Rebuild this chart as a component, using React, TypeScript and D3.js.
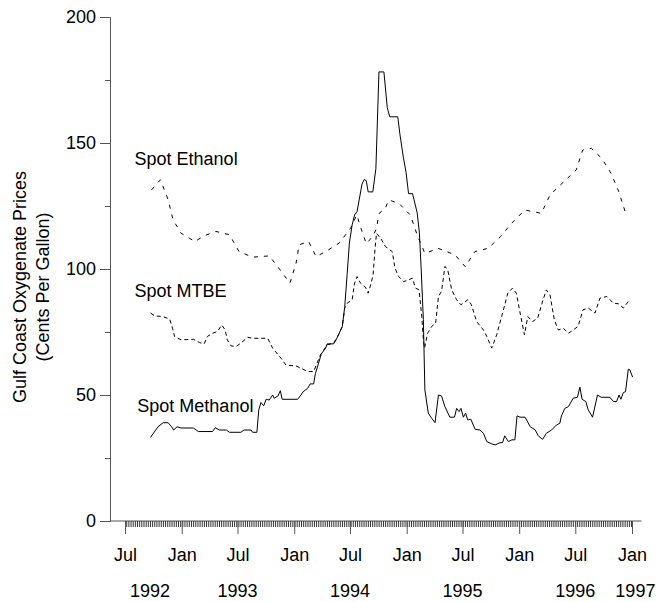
import React, { useEffect, useRef } from "react";
import * as d3 from "d3";

type Pt = [string, number];

// Spot methanol, cents per gallon (solid line)
const methanol: Pt[] = [
  ["1992-09-22", 33.2], ["1992-10-16", 37.4], ["1992-11-02", 39.0], ["1992-11-18", 39.0],
  ["1992-11-29", 37.4], ["1992-12-06", 36.1], ["1992-12-17", 37.4], ["1992-12-30", 36.9],
  ["1993-02-08", 36.9], ["1993-02-24", 35.5], ["1993-04-11", 35.5], ["1993-04-20", 37.0],
  ["1993-05-03", 36.1], ["1993-05-26", 36.1], ["1993-06-05", 35.2], ["1993-07-12", 35.2],
  ["1993-07-22", 36.1], ["1993-08-14", 36.1], ["1993-08-19", 35.2], ["1993-09-02", 35.2],
  ["1993-09-08", 44.1], ["1993-09-15", 47.0], ["1993-09-24", 45.7], ["1993-10-02", 48.3],
  ["1993-10-12", 48.0], ["1993-10-23", 50.0], ["1993-10-28", 48.7], ["1993-11-09", 49.6],
  ["1993-11-17", 51.7], ["1993-11-23", 48.3], ["1994-01-12", 48.3], ["1994-01-23", 50.0],
  ["1994-01-30", 51.3], ["1994-02-14", 52.7], ["1994-02-22", 54.4], ["1994-03-05", 54.4],
  ["1994-03-11", 58.6], ["1994-03-21", 62.6], ["1994-03-30", 66.3], ["1994-04-13", 68.6],
  ["1994-04-18", 70.3], ["1994-05-09", 70.3], ["1994-05-17", 71.9], ["1994-05-27", 74.5],
  ["1994-06-06", 77.2], ["1994-06-14", 85.1], ["1994-06-22", 98.3], ["1994-06-29", 110.3],
  ["1994-07-08", 117.5], ["1994-07-16", 121.5], ["1994-07-24", 122.8], ["1994-08-09", 133.7],
  ["1994-08-16", 135.5], ["1994-08-23", 135.0], ["1994-08-29", 130.6], ["1994-09-13", 130.6],
  ["1994-09-23", 139.8], ["1994-10-03", 178.2], ["1994-10-19", 178.2], ["1994-10-30", 164.0],
  ["1994-11-07", 160.4], ["1994-12-03", 160.4], ["1994-12-10", 153.5], ["1994-12-21", 144.4],
  ["1994-12-30", 138.3], ["1995-01-07", 129.9], ["1995-01-20", 129.9], ["1995-02-04", 122.3],
  ["1995-02-11", 114.6], ["1995-02-17", 100.0], ["1995-02-24", 80.0], ["1995-03-01", 52.0],
  ["1995-03-12", 42.8], ["1995-03-23", 40.8], ["1995-04-03", 39.0], ["1995-04-14", 50.0],
  ["1995-04-24", 49.6], ["1995-05-05", 45.4], ["1995-05-21", 41.2], ["1995-06-05", 41.2],
  ["1995-06-12", 44.7], ["1995-06-20", 43.4], ["1995-06-26", 44.7], ["1995-07-04", 41.2],
  ["1995-07-11", 42.8], ["1995-07-18", 40.1], ["1995-07-28", 40.4], ["1995-08-11", 36.4],
  ["1995-08-27", 36.1], ["1995-09-07", 34.8], ["1995-09-18", 31.5], ["1995-10-04", 30.6],
  ["1995-10-15", 30.2], ["1995-10-31", 31.1], ["1995-11-08", 31.1], ["1995-11-15", 33.8],
  ["1995-11-27", 31.5], ["1995-12-08", 32.2], ["1995-12-18", 32.2], ["1995-12-25", 41.7],
  ["1996-01-04", 41.2], ["1996-01-20", 41.2], ["1996-02-06", 37.4], ["1996-02-22", 36.1],
  ["1996-03-03", 33.8], ["1996-03-17", 32.4], ["1996-03-29", 34.8], ["1996-04-15", 36.1],
  ["1996-05-01", 38.1], ["1996-05-12", 38.8], ["1996-05-17", 41.7], ["1996-05-28", 44.7],
  ["1996-06-09", 45.4], ["1996-06-24", 48.7], ["1996-07-08", 49.1], ["1996-07-16", 53.1],
  ["1996-07-23", 48.3], ["1996-08-04", 47.4], ["1996-08-12", 44.1], ["1996-08-26", 41.2],
  ["1996-09-11", 50.0], ["1996-09-23", 49.1], ["1996-10-21", 49.1], ["1996-11-02", 47.4],
  ["1996-11-12", 47.4], ["1996-11-20", 50.0], ["1996-11-26", 48.3], ["1996-12-04", 51.0],
  ["1996-12-11", 51.3], ["1996-12-20", 60.2], ["1996-12-25", 60.0], ["1997-01-03", 57.1],
];

// Spot MTBE (dense dashes)
const mtbe: Pt[] = [
  ["1992-09-22", 82.5], ["1992-10-06", 81.4], ["1992-11-02", 81.1], ["1992-11-23", 80.1],
  ["1992-12-02", 76.5], ["1992-12-09", 73.2], ["1992-12-30", 71.9], ["1993-02-08", 72.1],
  ["1993-02-28", 70.8], ["1993-03-15", 70.3], ["1993-03-25", 73.2], ["1993-04-11", 74.5],
  ["1993-04-27", 75.2], ["1993-05-11", 77.8], ["1993-05-22", 75.8], ["1993-05-29", 71.9],
  ["1993-06-10", 69.5], ["1993-06-26", 69.2], ["1993-07-12", 70.6], ["1993-08-03", 72.9],
  ["1993-08-19", 72.5], ["1993-10-07", 72.5], ["1993-10-23", 68.6], ["1993-11-19", 64.6],
  ["1993-12-05", 61.9], ["1994-01-07", 61.5], ["1994-01-23", 60.6], ["1994-02-14", 59.3],
  ["1994-03-05", 59.3], ["1994-03-16", 62.6], ["1994-03-27", 65.9], ["1994-04-18", 69.9],
  ["1994-05-09", 70.6], ["1994-05-25", 73.9], ["1994-06-06", 77.2], ["1994-06-14", 84.5],
  ["1994-06-22", 86.4], ["1994-07-08", 87.8], ["1994-07-16", 94.4], ["1994-07-24", 97.0],
  ["1994-08-04", 94.4], ["1994-08-20", 92.8], ["1994-08-29", 90.4], ["1994-09-06", 93.7],
  ["1994-09-14", 97.7], ["1994-09-20", 107.6], ["1994-09-25", 114.2], ["1994-10-08", 112.3],
  ["1994-10-24", 108.9], ["1994-11-15", 106.9], ["1994-11-24", 100.3], ["1994-12-06", 97.0],
  ["1994-12-22", 95.0], ["1995-01-08", 95.7], ["1995-01-19", 96.4], ["1995-01-30", 92.4],
  ["1995-02-10", 91.7], ["1995-02-19", 81.1], ["1995-02-24", 71.9], ["1995-02-28", 68.6],
  ["1995-03-10", 74.5], ["1995-03-23", 77.2], ["1995-04-05", 78.5], ["1995-04-14", 89.1],
  ["1995-04-24", 91.1], ["1995-05-05", 101.0], ["1995-05-14", 99.7], ["1995-05-27", 91.7],
  ["1995-06-12", 87.8], ["1995-06-26", 85.8], ["1995-07-18", 87.8], ["1995-07-30", 85.8],
  ["1995-08-16", 79.1], ["1995-09-07", 75.8], ["1995-09-18", 73.2], ["1995-10-04", 68.6],
  ["1995-10-20", 73.9], ["1995-11-08", 82.5], ["1995-11-25", 90.4], ["1995-12-10", 92.4],
  ["1995-12-23", 90.4], ["1996-01-04", 82.5], ["1996-01-18", 73.9], ["1996-01-29", 81.1],
  ["1996-02-13", 79.1], ["1996-03-01", 80.5], ["1996-03-15", 86.4], ["1996-03-29", 91.7],
  ["1996-04-10", 89.7], ["1996-04-24", 79.8], ["1996-05-07", 75.8], ["1996-05-23", 76.5],
  ["1996-06-09", 74.5], ["1996-06-24", 75.8], ["1996-07-10", 77.2], ["1996-07-26", 83.8],
  ["1996-08-12", 84.5], ["1996-09-03", 82.5], ["1996-09-19", 88.4], ["1996-10-11", 89.1],
  ["1996-11-02", 86.4], ["1996-11-18", 86.2], ["1996-12-04", 84.5], ["1996-12-20", 87.1],
  ["1996-12-28", 86.4],
];

// Spot ethanol (sparse dashes)
const ethanol: Pt[] = [
  ["1992-09-25", 131.4], ["1992-10-24", 135.4], ["1992-11-18", 127.5], ["1992-12-04", 119.5],
  ["1992-12-30", 114.2], ["1993-02-13", 110.9], ["1993-03-15", 113.2], ["1993-04-22", 114.9],
  ["1993-06-05", 113.6], ["1993-07-06", 106.9], ["1993-08-19", 104.7], ["1993-10-12", 105.2],
  ["1993-11-16", 99.7], ["1993-12-18", 94.4], ["1994-01-07", 102.3], ["1994-01-17", 109.6],
  ["1994-02-17", 110.9], ["1994-03-13", 104.9], ["1994-04-13", 106.9], ["1994-05-27", 110.3],
  ["1994-07-03", 116.2], ["1994-07-23", 121.5], ["1994-08-06", 116.0], ["1994-08-23", 110.0],
  ["1994-09-13", 113.0], ["1994-09-25", 116.0], ["1994-10-03", 122.0], ["1994-10-23", 124.0],
  ["1994-11-04", 127.4], ["1994-12-07", 126.0], ["1995-01-13", 121.4], ["1995-02-04", 113.5],
  ["1995-03-01", 106.2], ["1995-04-13", 108.2], ["1995-06-07", 105.6], ["1995-07-10", 100.9],
  ["1995-08-10", 106.9], ["1995-09-22", 108.2], ["1995-11-01", 112.8], ["1995-12-07", 118.1],
  ["1996-01-19", 123.4], ["1996-03-13", 122.1], ["1996-04-10", 129.4], ["1996-05-22", 134.3],
  ["1996-07-04", 139.3], ["1996-07-25", 147.2], ["1996-08-22", 147.9], ["1996-09-25", 143.9],
  ["1996-10-25", 138.0], ["1996-11-19", 130.7], ["1996-12-10", 122.7],
];

const yTicks = [0, 50, 100, 150, 200];
const yMinorTicks = [25, 75, 125, 175];
const monthTicks = [
  "1992-07-01", "1993-01-01", "1993-07-01", "1994-01-01", "1994-07-01",
  "1995-01-01", "1995-07-01", "1996-01-01", "1996-07-01", "1997-01-01",
];
const yearLabels: [string, string][] = [
  ["1992-09-20", "1992"], ["1993-07-01", "1993"], ["1994-07-01", "1994"],
  ["1995-07-01", "1995"], ["1996-07-01", "1996"], ["1997-01-12", "1997"],
];
const seriesLabels: [string, string, number][] = [
  ["Spot Ethanol", "1992-08-01", 141.4],
  ["Spot MTBE", "1992-08-01", 88.9],
  ["Spot Methanol", "1992-08-10", 43.4],
];

const FONT = "'Liberation Sans', Arial, sans-serif";
const W = 659;
const H = 602;

const App: React.FC = () => {
  const svgRef = useRef<SVGSVGElement>(null);

  useEffect(() => {
    if (!svgRef.current) return;
    const svg = d3.select(svgRef.current);
    svg.selectAll("*").remove();

    const parse = d3.timeParse("%Y-%m-%d");
    const x = d3
      .scaleTime()
      .domain([parse("1992-07-01")!, parse("1997-01-01")!])
      .range([125, 632]);
    const y = d3.scaleLinear().domain([0, 200]).range([521, 17]);
    const axisLeftX = 110;
    const axisColor = "#555";

    // Y axis: major + minor ticks
    const yAxis = svg
      .append("g")
      .attr("transform", `translate(${axisLeftX},0)`)
      .call(d3.axisLeft(y).tickValues(yTicks).tickSize(10).tickPadding(4).tickFormat(d3.format("d")));
    yAxis.select(".domain").attr("stroke", axisColor);
    yAxis.selectAll(".tick line").attr("stroke", axisColor);
    yAxis.selectAll("text").style("font-family", FONT).style("font-size", "18px").attr("fill", "#000");

    svg
      .append("g")
      .attr("transform", `translate(${axisLeftX},0)`)
      .call(d3.axisLeft(y).tickValues(yMinorTicks).tickSize(5).tickFormat(() => ""))
      .call((g) => g.select(".domain").remove())
      .selectAll(".tick line")
      .attr("stroke", axisColor);

    // X axis baseline
    const x0 = y(0);
    svg
      .append("line")
      .attr("x1", axisLeftX)
      .attr("x2", x(parse("1997-02-01")!))
      .attr("y1", x0)
      .attr("y2", x0)
      .attr("stroke", axisColor);

    // weekly minor ticks
    const weeks = d3.timeWeek.range(parse("1992-07-05")!, parse("1997-01-01")!);
    svg
      .append("g")
      .attr("transform", `translate(0,${x0})`)
      .call(d3.axisBottom(x).tickValues(weeks).tickSize(6).tickFormat(() => ""))
      .call((g) => g.select(".domain").remove())
      .selectAll(".tick line")
      .attr("stroke", "#333");

    // half-year major ticks with month labels
    const monthDates = monthTicks.map((d) => parse(d)!);
    const xAxis = svg
      .append("g")
      .attr("transform", `translate(0,${x0})`)
      .call(
        d3
          .axisBottom(x)
          .tickValues(monthDates)
          .tickSize(13)
          .tickPadding(14)
          .tickFormat((d) => d3.timeFormat("%b")(d as Date))
      );
    xAxis.select(".domain").remove();
    xAxis.selectAll(".tick line").attr("stroke", axisColor);
    xAxis.selectAll("text").style("font-family", FONT).style("font-size", "18px").attr("fill", "#000");

    // year labels
    svg
      .append("g")
      .selectAll("text")
      .data(yearLabels)
      .enter()
      .append("text")
      .attr("x", (d) => x(parse(d[0])!))
      .attr("y", 597)
      .attr("text-anchor", "middle")
      .style("font-family", FONT)
      .style("font-size", "18px")
      .text((d) => d[1]);

    // Y axis title
    const title = svg
      .append("text")
      .attr("transform", `translate(0,287) rotate(-90)`)
      .attr("text-anchor", "middle")
      .style("font-family", FONT)
      .style("font-size", "18px");
    title.append("tspan").attr("x", 0).attr("y", 26).text("Gulf Coast Oxygenate Prices");
    title.append("tspan").attr("x", 0).attr("y", 49).text("(Cents Per Gallon)");

    // series lines
    const line = d3
      .line<Pt>()
      .x((d) => x(parse(d[0])!))
      .y((d) => y(d[1]));

    const series: { data: Pt[]; dash: string | null }[] = [
      { data: ethanol, dash: "4 6" },
      { data: mtbe, dash: "4 3" },
      { data: methanol, dash: null },
    ];
    series.forEach((s) => {
      svg
        .append("path")
        .datum(s.data)
        .attr("d", line)
        .attr("fill", "none")
        .attr("stroke", "#000")
        .attr("stroke-width", 1)
        .attr("stroke-dasharray", s.dash);
    });

    // series labels
    svg
      .append("g")
      .selectAll("text")
      .data(seriesLabels)
      .enter()
      .append("text")
      .attr("x", (d) => x(parse(d[1])!))
      .attr("y", (d) => y(d[2]))
      .style("font-family", FONT)
      .style("font-size", "18px")
      .text((d) => d[0]);
  }, []);

  return (
    <svg
      ref={svgRef}
      width={W}
      height={H}
      style={{ position: "absolute", left: 0, top: 0, background: "#fff" }}
    />
  );
};

export default App;
